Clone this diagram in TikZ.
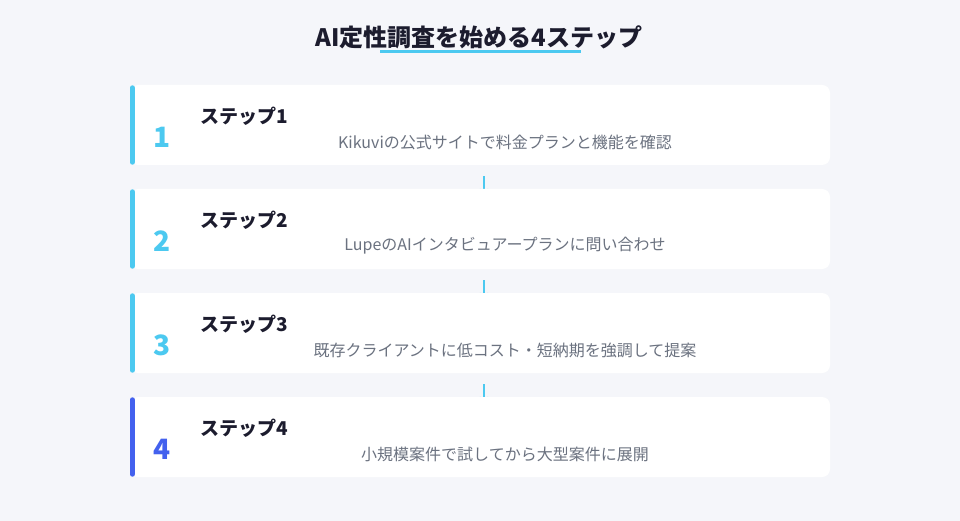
\documentclass[tikz,border=0pt]{standalone}
\usepackage{fontspec}
\setmainfont{Noto Sans CJK JP}
\usetikzlibrary{positioning,calc,arrows,arrows.meta,backgrounds}
\definecolor{pagebg}{HTML}{F5F6FA}
\definecolor{ink}{HTML}{1C1C2E}
\definecolor{muted}{HTML}{6B7280}
\definecolor{sky}{HTML}{4CC9F0}
\definecolor{royal}{HTML}{4361EE}
\tikzset{
	card/.style={fill=white, rounded corners=8pt, minimum width=700pt, minimum height=80pt, inner sep=0pt},
	stepnum/.style={font=\fontsize{28}{28}\selectfont\bfseries, anchor=center},
	steptitle/.style={font=\fontsize{19}{19}\selectfont\bfseries, text=ink, anchor=west},
	stepdesc/.style={font=\fontsize{16}{16}\selectfont, text=muted},
	accent/.style={line width=5pt, line cap=round},
	flow/.style={draw=sky, line width=2pt, -{Stealth[length=4pt,width=8pt]}}
}

\begin{document}
\begin{tikzpicture}[x=1pt, y=1pt]
	\useasboundingbox (0,0) rectangle (960,-521);

	% heading
	\node[font=\fontsize{24}{24}\selectfont\bfseries, text=ink] (head) at (479,-37) {AI定性調査を始める4ステップ};
	\draw[sky, line width=3pt] (380,-51.5) -- (581,-51.5);

	% cards
	\node[card] (s1) at (480,-125) {};
	\node[card] (s2) at (480,-229) {};
	\node[card] (s3) at (480,-333) {};
	\node[card] (s4) at (480,-437) {};

	\draw[accent, sky] ([xshift=2.5pt, yshift=-3pt]s1.north west) -- ([xshift=2.5pt, yshift=3pt]s1.south west);
	\draw[accent, sky] ([xshift=2.5pt, yshift=-3pt]s2.north west) -- ([xshift=2.5pt, yshift=3pt]s2.south west);
	\draw[accent, sky] ([xshift=2.5pt, yshift=-3pt]s3.north west) -- ([xshift=2.5pt, yshift=3pt]s3.south west);
	\draw[accent, royal] ([xshift=2.5pt, yshift=-3pt]s4.north west) -- ([xshift=2.5pt, yshift=3pt]s4.south west);

	\node[stepnum, text=sky] (num1) at (162,-137) {1};
	\node[steptitle] (ttl1) at (197,-116) {ステップ1};
	\node[stepdesc] (desc1) at (505,-142) {Kikuviの公式サイトで料金プランと機能を確認};

	\node[stepnum, text=sky] (num2) at (162,-241) {2};
	\node[steptitle] (ttl2) at (197,-220) {ステップ2};
	\node[stepdesc] (desc2) at (505,-246) {LupeのAIインタビュアープランに問い合わせ};

	\node[stepnum, text=sky] (num3) at (162,-345) {3};
	\node[steptitle] (ttl3) at (197,-324) {ステップ3};
	\node[stepdesc] (desc3) at (505,-350) {既存クライアントに低コスト・短納期を強調して提案};

	\node[stepnum, text=royal] (num4) at (162,-449) {4};
	\node[steptitle] (ttl4) at (197,-428) {ステップ4};
	\node[stepdesc] (desc4) at (505,-454) {小規模案件で試してから大型案件に展開};

	% page and connectors, tips tucked under the next card
	\begin{pgfonlayer}{background}
		\fill[pagebg] (0,0) rectangle (960,-521);
		\draw[flow, shorten <=11pt, shorten >=-4pt] (s1.south -| 484,0) -- (s2.north -| 484,0);
		\draw[flow, shorten <=11pt, shorten >=-4pt] (s2.south -| 484,0) -- (s3.north -| 484,0);
		\draw[flow, shorten <=11pt, shorten >=-4pt] (s3.south -| 484,0) -- (s4.north -| 484,0);
	\end{pgfonlayer}
\end{tikzpicture}
\end{document}
